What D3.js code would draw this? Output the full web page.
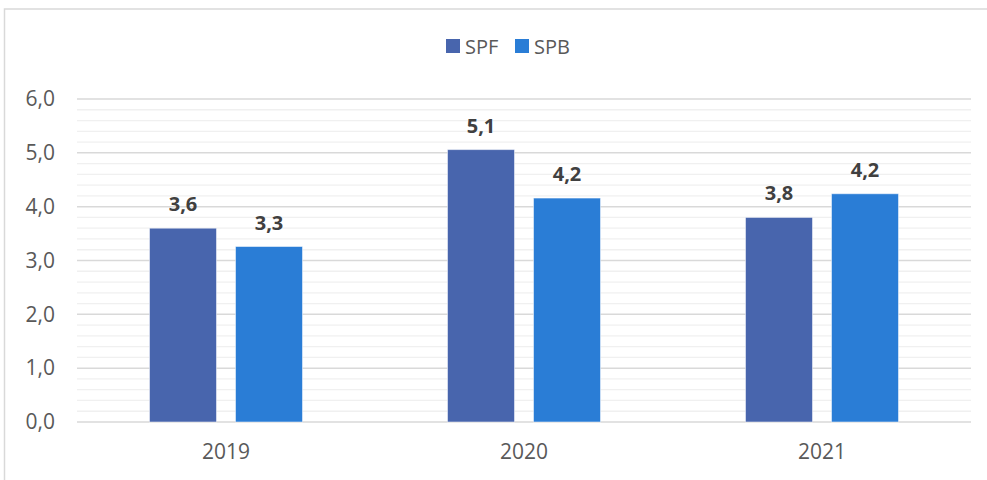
<!DOCTYPE html>
<html>
<head>
<meta charset="utf-8">
<script src="https://cdn.jsdelivr.net/npm/d3@7"></script>
<style>
  body { margin: 0; background: #fff; }
  svg { display: block; font-family: 'Open Sans', sans-serif; }
</style>
</head>
<body>
<div class="chart"></div>
<script>
// Data
const YEARS = ['2019', '2020', '2021']
const SERIES = ['SPF', 'SPB']
const SPF = [3.6, 5.06, 3.8]
const SPB = [3.26, 4.16, 4.24]
const COLORS = ['#4865ad', '#2a7dd6']

const svgWidth = 987
const svgHeight = 480

const margin = { top: 99, bottom: 58, left: 77, right: 16 }
const width = svgWidth - margin.left - margin.right
const height = svgHeight - margin.top - margin.bottom

const svg = d3.select('.chart')
    .append('svg')
    .attr('width', svgWidth)
    .attr('height', svgHeight)

// Outer frame
svg.append('rect')
    .attr('x', 4.5)
    .attr('y', 9)
    .attr('width', 1000)
    .attr('height', 500)
    .attr('fill', 'none')
    .attr('stroke', '#d9d9d9')
    .attr('stroke-width', 1.5)

const chartGroup = svg.append('g')
    .attr('transform', `translate(${margin.left}, ${margin.top})`)

const yScale = d3.scaleLinear()
    .domain([0, 6])
    .range([height, 0])

const x0 = d3.scaleBand()
    .domain(YEARS)
    .range([0, width])
    .padding(0)

const groupW = 153
const x1 = d3.scaleBand()
    .domain(SERIES)
    .range([(x0.bandwidth() - groupW) / 2, (x0.bandwidth() + groupW) / 2])
    .paddingInner(0.221)

// Minor gridlines
const minor = d3.range(0, 30).map(i => i * 0.2).filter(v => Math.abs(v - Math.round(v)) > 1e-6)
chartGroup.append('g')
    .selectAll('line')
    .data(minor)
    .enter()
    .append('line')
    .attr('x1', 0)
    .attr('x2', width)
    .attr('y1', d => yScale(d))
    .attr('y2', d => yScale(d))
    .attr('stroke', '#f0f0f0')
    .attr('stroke-width', 1.3)

// Major gridlines
chartGroup.append('g')
    .selectAll('line')
    .data(d3.range(0, 7))
    .enter()
    .append('line')
    .attr('x1', 0)
    .attr('x2', width)
    .attr('y1', d => yScale(d))
    .attr('y2', d => yScale(d))
    .attr('stroke', '#d9d9d9')
    .attr('stroke-width', 1.5)

// Y axis labels
const yAxis = chartGroup.append('g')
    .call(d3.axisLeft(yScale).tickValues(d3.range(0, 7)).tickSize(0).tickPadding(22)
        .tickFormat(d => d3.format('.1f')(d).replace('.', ',')))
yAxis.select('.domain').remove()
yAxis.selectAll('text')
    .attr('font-size', '21px')
    .attr('font-family', "'Open Sans', sans-serif")
    .attr('fill', '#595959')

// X axis labels
const xAxis = chartGroup.append('g')
    .attr('transform', `translate(0, ${height})`)
    .call(d3.axisBottom(x0).tickSize(0).tickPadding(22))
xAxis.select('.domain').remove()
xAxis.selectAll('text')
    .attr('font-size', '21px')
    .attr('font-family', "'Open Sans', sans-serif")
    .attr('fill', '#595959')

// Bars
const rows = YEARS.map((y, i) => ({ year: y, values: [SPF[i], SPB[i]] }))
const groups = chartGroup.selectAll('.year')
    .data(rows)
    .enter()
    .append('g')
    .attr('transform', d => `translate(${x0(d.year)}, 0)`)

groups.selectAll('rect')
    .data(d => d.values.map((v, j) => ({ key: SERIES[j], value: v, color: COLORS[j] })))
    .enter()
    .append('rect')
    .attr('x', d => x1(d.key))
    .attr('width', x1.bandwidth())
    .attr('y', d => yScale(d.value))
    .attr('height', d => height - yScale(d.value))
    .attr('fill', d => d.color)
    .attr('stroke', '#ffffff')
    .attr('stroke-opacity', 0.5)
    .attr('stroke-width', 1)

groups.selectAll('.lbl')
    .data(d => d.values.map((v, j) => ({ key: SERIES[j], value: v })))
    .enter()
    .append('text')
    .attr('x', d => x1(d.key) + x1.bandwidth() / 2)
    .attr('y', d => yScale(d.value) - 17)
    .attr('text-anchor', 'middle')
    .attr('font-size', '20px')
    .attr('font-weight', 'bold')
    .attr('fill', '#404040')
    .text(d => d3.format('.1f')(d.value).replace('.', ','))

// Legend
const legend = svg.append('g')
    .attr('transform', 'translate(446, 39)')
const lx = [0, 69]
SERIES.forEach((s, i) => {
    legend.append('rect')
        .attr('x', lx[i])
        .attr('y', 0)
        .attr('width', 14)
        .attr('height', 14)
        .attr('fill', COLORS[i])
    legend.append('text')
        .attr('x', lx[i] + 19)
        .attr('y', 14.5)
        .attr('font-size', '20px')
        .attr('fill', '#595959')
        .text(s)
})
</script>
</body>
</html>
